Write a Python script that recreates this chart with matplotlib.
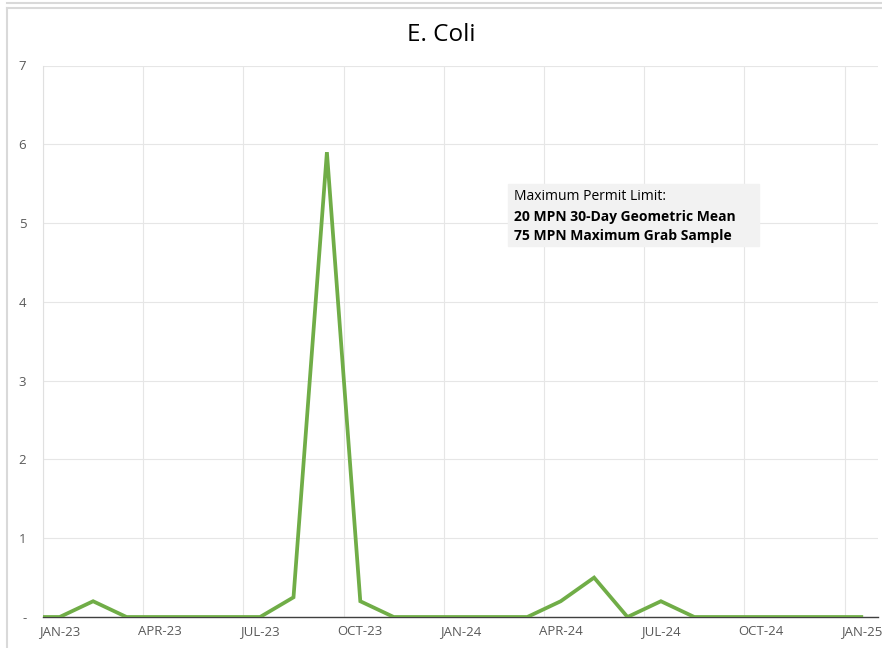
import matplotlib
matplotlib.use('Agg')
import matplotlib.pyplot as plt
from matplotlib.lines import Line2D
from matplotlib.ticker import FuncFormatter, MultipleLocator

# monthly E. coli results (MPN), one sample per month from JAN-23 to JAN-25
months = ['JAN-23', 'FEB-23', 'MAR-23', 'APR-23', 'MAY-23', 'JUN-23', 'JUL-23', 'AUG-23',
          'SEP-23', 'OCT-23', 'NOV-23', 'DEC-23', 'JAN-24', 'FEB-24', 'MAR-24', 'APR-24',
          'MAY-24', 'JUN-24', 'JUL-24', 'AUG-24', 'SEP-24', 'OCT-24', 'NOV-24', 'DEC-24',
          'JAN-25']
ecoli = [0, 0.2, 0, 0, 0, 0, 0, 0.25, 5.9, 0.2, 0, 0,
         0, 0, 0, 0.2, 0.5, 0, 0.2, 0, 0, 0, 0, 0,
         0]
start_value = 0  # reading at the start of the period
permit_note = ["Maximum Permit Limit:",
               "20 MPN 30-Day Geometric Mean",
               "75 MPN Maximum Grab Sample"]

plt.rcParams['font.family'] = ['Open Sans', 'DejaVu Sans']

fig = plt.figure(figsize=(8.82, 6.48), dpi=100)
W, H = 882, 648
ax = fig.add_axes([43 / W, 1 - 617 / H, (878 - 43) / W, (617 - 65.5) / H])

# samples sit mid-month; month boundaries are at whole numbers
x = [0] + [i + 0.5 for i in range(len(months))]
y = [start_value] + ecoli
ax.plot(x, y, color='#70AD47', lw=2.7, solid_joinstyle='miter', zorder=3)

ax.set_xlim(0, len(months))
ax.set_ylim(0, 7)
quarters = list(range(0, len(months), 3))
ax.set_xticks(quarters)
ax.set_xticklabels([])
ax.set_xticks([q + 0.5 for q in quarters], minor=True)
ax.set_xticklabels([months[q] for q in quarters], minor=True)
ax.yaxis.set_major_locator(MultipleLocator(1))
ax.yaxis.set_major_formatter(FuncFormatter(lambda v, p: '-' if v == 0 else f'{v:.0f}'))

ax.grid(True, which='major', color='#E6E6E6', lw=0.8)
ax.set_axisbelow(True)
for s in ['top', 'right']:
    ax.spines[s].set_visible(False)
ax.spines['left'].set_color('#E0E0E0')
ax.spines['bottom'].set_color('#404040')
ax.spines['bottom'].set_linewidth(1.0)
ax.tick_params(which='both', length=0, labelsize=9.5, labelcolor='#595959')
ax.tick_params(axis='y', pad=12)
ax.tick_params(axis='x', which='minor', pad=6)

fig.text(0.5, 1 - 35 / H, 'E. Coli', ha='center', va='center', fontsize=17.5, color='#000000')

# permit limits note
box_x, box_y = 508 / W, 1 - 246 / H
fig.patches.append(plt.Rectangle((box_x, box_y), (759 - 508) / W, (246 - 184) / H,
                                 transform=fig.transFigure, color='#F2F2F2', zorder=2))
for i, line in enumerate(permit_note):
    fig.text(514 / W, 1 - (197 + i * 19.5) / H, line, ha='left', va='center', fontsize=10,
             fontweight='normal' if i == 0 else 'bold', color='#000000', zorder=3)

# chart frame
fig.add_artist(Line2D([7 / W, 7 / W], [0, 1 - 8 / H], color='#D9D9D9', lw=1.5))
fig.add_artist(Line2D([7 / W, 1], [1 - 8 / H, 1 - 8 / H], color='#D9D9D9', lw=1.5))
fig.add_artist(Line2D([7 / W, 1], [1 - 3 / H, 1 - 3 / H], color='#D9D9D9', lw=1.5))

fig.savefig('out.png', dpi=100)
